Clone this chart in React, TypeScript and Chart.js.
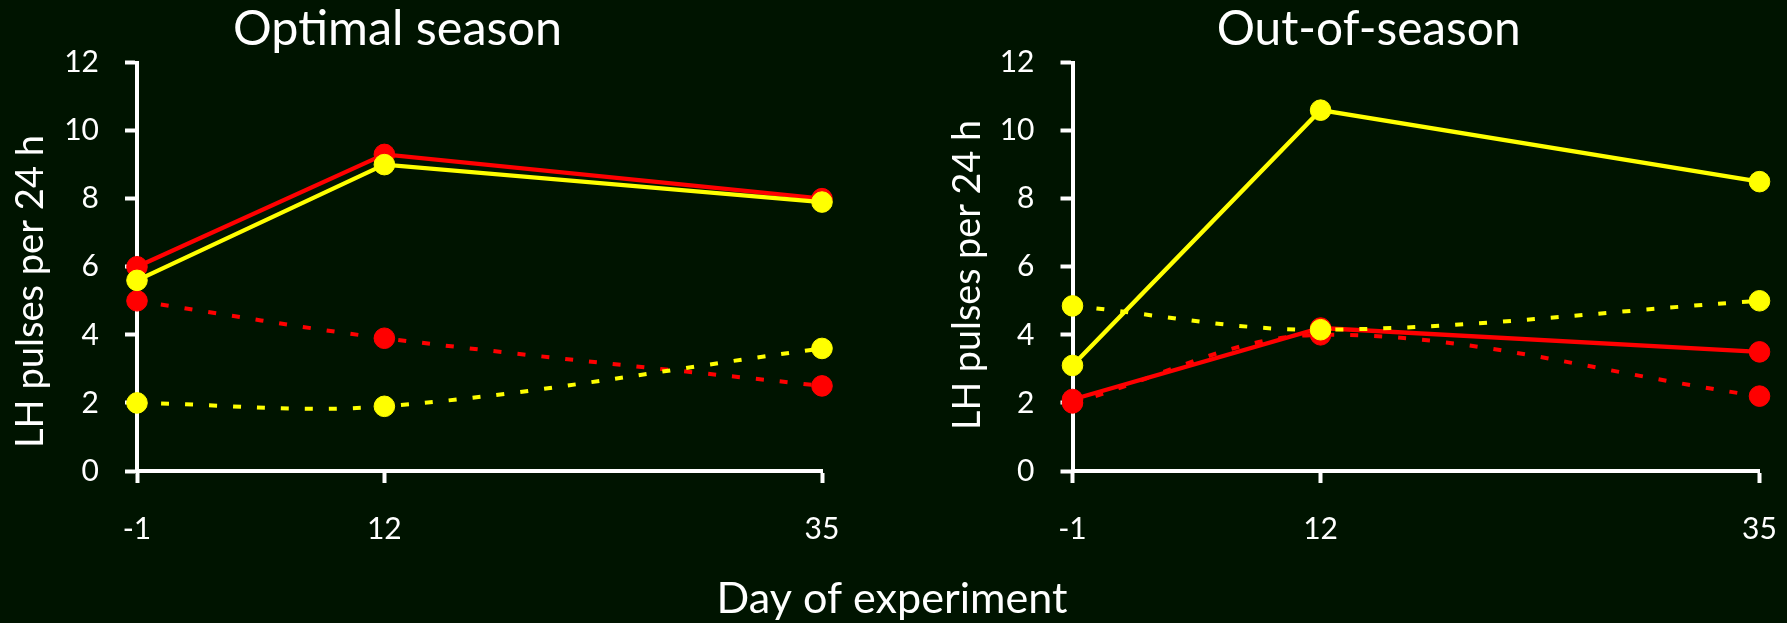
import React, { useEffect, useRef } from "react";
import { Chart, registerables } from "chart.js";

Chart.register(...registerables);

// ---------- data ----------
const days = [-1, 12, 35];
const xTicks = [-1, 12, 35];
const yTicks = [0, 2, 4, 6, 8, 10, 12];

const optimalRedSolid = [6.0, 9.3, 8.0];
const optimalYellowSolid = [5.6, 9.0, 7.9];
const optimalRedDotted = [5.0, 3.9, 2.5];
const optimalYellowDotted = [2.0, 1.9, 3.6];

const outRedSolid = [2.1, 4.2, 3.5];
const outYellowSolid = [3.1, 10.6, 8.5];
const outRedDotted = [2.0, 4.0, 2.2];
const outYellowDotted = [4.85, 4.15, 5.0];

const panelTitles = ["Optimal season", "Out-of-season"];
const yAxisTitle = "LH pulses per 24 h";
const xAxisTitle = "Day of experiment";

// ---------- styling ----------
const W = 1787;
const H = 623;
const CW = W + 200; // canvas wider than page so label padding never squeezes the plot
const BG = "#001400";
const RED = "#ff0000";
const YELLOW = "#ffff00";
const WHITE = "#ffffff";
const FONT = "Lato, 'Open Sans', sans-serif";
const X_AXIS_H = 90;

type Series = { data: number[]; color: string; dotted: boolean; order: number };

const panels = [
  {
    title: panelTitles[0],
    series: [
      { data: optimalYellowSolid, color: YELLOW, dotted: false, order: 0 },
      { data: optimalYellowDotted, color: YELLOW, dotted: true, order: 1 },
      { data: optimalRedSolid, color: RED, dotted: false, order: 2 },
      { data: optimalRedDotted, color: RED, dotted: true, order: 3 },
    ] as Series[],
    area: { left: 137, right: 822, top: 62.5, bottom: 471 },
    titleX: 397.5,
    titleW: 329,
    yTitleX: 42.7,
    yTitleY: 291.5,
    yTitleW: 313,
    showXTitle: true,
  },
  {
    title: panelTitles[1],
    series: [
      { data: outYellowSolid, color: YELLOW, dotted: false, order: 0 },
      { data: outYellowDotted, color: YELLOW, dotted: true, order: 1 },
      { data: outRedSolid, color: RED, dotted: false, order: 2 },
      { data: outRedDotted, color: RED, dotted: true, order: 3 },
    ] as Series[],
    area: { left: 1072.5, right: 1759.5, top: 62.5, bottom: 471 },
    titleX: 1368.6,
    titleW: 304,
    yTitleX: 980,
    yTitleY: 275,
    yTitleW: 310,
    showXTitle: false,
  },
];

const TITLE_BASE = 45;
const XTITLE_X = 892;
const XTITLE_BASE = 612.7;
const XTITLE_W = 351;

function drawFitText(
  ctx: CanvasRenderingContext2D,
  text: string,
  x: number,
  y: number,
  width: number,
  rotate: boolean
) {
  ctx.save();
  ctx.font = `100px ${FONT}`;
  const size = (100 * width) / ctx.measureText(text).width;
  ctx.font = `${size}px ${FONT}`;
  ctx.fillStyle = WHITE;
  ctx.textAlign = "center";
  ctx.textBaseline = "alphabetic";
  ctx.translate(x, y);
  if (rotate) ctx.rotate(-Math.PI / 2);
  ctx.fillText(text, 0, 0);
  ctx.restore();
}

function Panel({ panel }: { panel: (typeof panels)[number] }) {
  const ref = useRef<HTMLCanvasElement>(null);
  useEffect(() => {
    const a = panel.area;
    const datasets = panel.series.map((s, i) => ({
      label: `s${i}`,
      data: days.map((d, j) => ({ x: d, y: s.data[j] })),
      borderColor: s.color,
      backgroundColor: s.color,
      pointBackgroundColor: s.color,
      pointBorderColor: s.color,
      pointRadius: 10.3,
      pointHoverRadius: 10.3,
      pointBorderWidth: 1,
      borderWidth: s.dotted ? 4 : 4.3,
      borderDash: s.dotted ? [8, 16] : [],
      borderCapStyle: "butt" as const,
      tension: s.dotted ? 0.35 : 0,
      clip: false as const,
      order: s.order,
    }));

    const textPlugin = {
      id: "pageText",
      afterDraw(chart: Chart) {
        const ctx = chart.ctx;
        drawFitText(ctx, panel.title, panel.titleX, TITLE_BASE, panel.titleW, false);
        drawFitText(ctx, yAxisTitle, panel.yTitleX, panel.yTitleY, panel.yTitleW, true);
        if (panel.showXTitle) {
          drawFitText(ctx, xAxisTitle, XTITLE_X, XTITLE_BASE, XTITLE_W, false);
        }
      },
    };

    const chart = new Chart(ref.current!, {
      type: "line",
      data: { datasets },
      options: {
        animation: false,
        responsive: false,
        devicePixelRatio: 1,
        events: [],
        layout: {
          padding: {
            left: 0,
            right: CW - a.right,
            top: a.top,
            bottom: H - a.bottom - X_AXIS_H,
          },
        },
        plugins: {
          legend: { display: false },
          tooltip: { enabled: false },
          title: { display: false },
        },
        scales: {
          x: {
            type: "linear",
            min: xTicks[0],
            max: xTicks[xTicks.length - 1],
            afterBuildTicks: (s: any) => {
              s.ticks = xTicks.map((v) => ({ value: v }));
            },
            afterFit: (s: any) => {
              s.height = X_AXIS_H;
            },
            grid: {
              drawOnChartArea: false,
              drawTicks: true,
              tickLength: 12,
              tickWidth: 4,
              tickColor: WHITE,
            },
            border: { display: true, color: WHITE, width: 4 },
            ticks: {
              color: WHITE,
              font: { family: FONT, size: 30 },
              padding: 28,
              maxRotation: 0,
              autoSkip: false,
              callback: (v: any) => String(v),
            },
          },
          y: {
            type: "linear",
            min: yTicks[0],
            max: yTicks[yTicks.length - 1],
            afterBuildTicks: (s: any) => {
              s.ticks = yTicks.map((v) => ({ value: v }));
            },
            afterFit: (s: any) => {
              s.width = a.left;
            },
            grid: {
              drawOnChartArea: false,
              drawTicks: true,
              tickLength: 12,
              tickWidth: 4,
              tickColor: WHITE,
            },
            border: { display: true, color: WHITE, width: 4 },
            ticks: {
              color: WHITE,
              font: { family: FONT, size: 30 },
              padding: 26,
              autoSkip: false,
              callback: (v: any) => String(v),
            },
          },
        },
      },
      plugins: [textPlugin],
    } as any);
    return () => chart.destroy();
  }, [panel]);

  return (
    <canvas
      ref={ref}
      width={CW}
      height={H}
      style={{ position: "absolute", left: 0, top: 0, width: CW, height: H }}
    />
  );
}

export default function App() {
  return (
    <div
      style={{
        position: "absolute",
        left: 0,
        top: 0,
        width: W,
        height: H,
        background: BG,
        overflow: "hidden",
      }}
    >
      {panels.map((p, i) => (
        <Panel key={i} panel={p} />
      ))}
    </div>
  );
}
